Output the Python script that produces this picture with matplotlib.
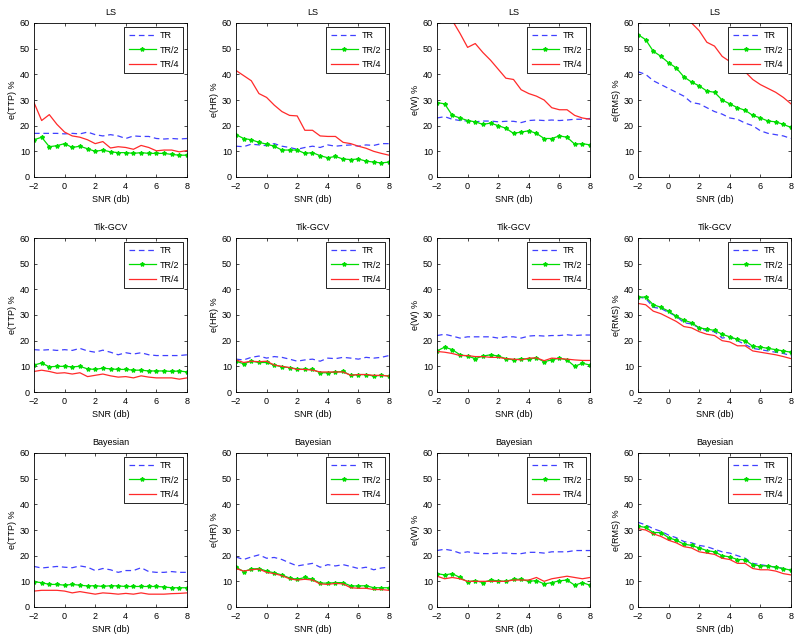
import numpy as np
import matplotlib
matplotlib.use('Agg')
import matplotlib.pyplot as plt

plt.rcParams['font.family'] = ['Liberation Sans', 'DejaVu Sans']

# ---- SNR values (db)
snr = np.arange(-2, 8.01, 0.5)

methods = ['LS', 'Tik-GCV', 'Bayesian']
ylabels = ['e(TTP) %', 'e(HR) %', 'e(W) %', 'e(RMS) %']
labels = ['TR', 'TR/2', 'TR/4']

# ---- LS
ls_ttp_tr = [17, 17, 17, 17, 16.8, 17, 16.8, 17.5, 16.5, 16, 16.5, 16, 15, 16, 15.8, 15.8, 15, 14.8, 15, 14.8, 15]
ls_ttp_tr2 = [14.5, 15.5, 11.8, 12.2, 13, 11.5, 12, 11, 10, 10.5, 9.8, 9.5, 9.5, 9.2, 9.5, 9.2, 9.2, 9.2, 8.8, 8.5, 8.5]
ls_ttp_tr4 = [29, 22, 24.3, 20.5, 17.5, 16, 15.5, 14.5, 13, 13.8, 11.3, 11.8, 11.5, 10.8, 12.3, 11.5, 10.2, 10.5, 10.5, 9.8, 10.3]

ls_hr_tr = [12, 11.8, 12.8, 12.5, 12.2, 13, 12, 11.5, 10.8, 11.5, 12, 11.5, 12.5, 12, 12.3, 12.5, 12, 12.5, 12.3, 13, 13]
ls_hr_tr2 = [16.5, 15, 14.5, 13.5, 12.8, 12, 10.5, 10.5, 10.5, 9.2, 9.5, 8.3, 7.5, 8, 7, 6.8, 7, 6.2, 5.8, 5.5, 5.8]
ls_hr_tr4 = [41.5, 39.5, 37.5, 32.5, 31, 28, 25.5, 24, 23.8, 18.2, 18.2, 16, 15.8, 15.8, 13.5, 13, 12, 11.2, 10, 9.2, 8.5]

ls_w_tr = [23, 23.5, 22.5, 22, 21.8, 21.5, 21.8, 21.8, 21.5, 21.7, 21.7, 21.2, 22, 22.2, 22, 22.2, 22, 22.2, 22.5, 22.5, 22.8]
ls_w_tr2 = [29, 28.5, 24, 23, 22, 21.5, 20.5, 21, 20, 19, 17, 17.5, 18, 17, 15, 15, 16, 15.5, 12.8, 13, 12.5]
ls_w_tr4 = [72, 66, 61, 56, 50.5, 52, 48.5, 45.5, 42, 38.5, 38, 34, 32.5, 31.5, 30, 27, 26.2, 26.2, 24, 23, 22.5]

ls_rms_tr = [41, 40, 37.5, 36, 34.5, 33, 31.5, 29, 28.5, 27, 25.5, 24.5, 23, 22.5, 21, 20, 18, 17, 16.5, 16, 15]
ls_rms_tr2 = [55.5, 53.5, 49, 47, 44.5, 42.5, 39, 37, 35.5, 33.5, 33, 30, 28.5, 27, 26, 24, 23, 21.8, 21.5, 20.5, 19.3]
ls_rms_tr4 = [81, 78, 75, 72, 69, 66, 63, 60, 57, 52.5, 51, 47, 45, 42.5, 41, 38, 36, 34.5, 33, 31, 28.5]

# ---- Tik-GCV
gcv_ttp_tr = [16.5, 16.3, 16.5, 16.2, 16.5, 16.2, 17, 16, 15.5, 16.3, 15.5, 14.5, 15.3, 14.8, 15.3, 14.5, 14.2, 14.2, 14.2, 14.2, 14.5]
gcv_ttp_tr2 = [10.5, 11.3, 9.8, 10, 10, 9.8, 10, 9, 8.8, 9.3, 9, 8.8, 8.8, 8.5, 8.5, 8.2, 8.2, 8.2, 8, 8.2, 7.8]
gcv_ttp_tr4 = [8, 8.5, 8, 7.3, 7.5, 7, 7.5, 6, 6.5, 7, 6.3, 5.8, 6, 5.5, 6.3, 5.8, 5.5, 5.5, 5.5, 5, 5.5]

gcv_hr_tr = [12.8, 12.5, 13.5, 14, 13.2, 13.8, 13.5, 12.8, 12, 12.5, 12.8, 12, 13.2, 13, 13.5, 13.2, 12.8, 13.5, 13.2, 13.5, 14.2]
gcv_hr_tr2 = [12, 11, 12, 11.5, 11.5, 10.5, 9.8, 9.5, 9, 8.8, 8.8, 7.5, 7.5, 7.8, 8, 6.5, 6.8, 6.8, 6.2, 6.5, 6.2]
gcv_hr_tr4 = [12.5, 11.5, 12, 11.8, 12, 10.5, 10, 9.5, 8.8, 8.8, 8.5, 7.8, 7.8, 7.8, 7.8, 6.5, 6.8, 6.8, 6.5, 6.5, 6.2]

gcv_w_tr = [22, 22.5, 21.8, 21, 21.5, 21.5, 21.5, 21.5, 21, 21.5, 21.5, 21, 21.8, 22, 21.8, 22, 22, 22.3, 22, 22.2, 22.2]
gcv_w_tr2 = [16, 17.5, 16.5, 14.5, 14, 13, 14, 14.5, 14, 13, 12.5, 13, 12.8, 13.3, 11.8, 12.5, 13.2, 12.5, 10, 11.2, 10.5]
gcv_w_tr4 = [15.8, 15.5, 15, 14.2, 14.2, 13.8, 13.8, 13.5, 13.5, 13, 12.8, 12.5, 13.2, 13.3, 12.2, 13.2, 13, 12.8, 12.5, 12.3, 12.3]

gcv_rms_tr = [37, 36.5, 33, 32.5, 31, 29.5, 27, 26.5, 25, 23.8, 23.5, 21, 21.5, 20, 18.5, 17, 16.5, 16, 15.5, 15, 14.2]
gcv_rms_tr2 = [37, 37, 34, 33, 31.5, 29.5, 28, 27, 25, 24.5, 24, 22.5, 21.5, 20.5, 20, 17.8, 17.5, 17, 16.5, 16, 15.5]
gcv_rms_tr4 = [34.5, 34, 31.5, 30.5, 29, 27.5, 25.5, 25, 23.5, 22.5, 22, 20, 19.5, 18, 18, 16, 15.5, 15, 14.5, 13.8, 13]

# ---- Bayesian
bay_ttp_tr = [15.8, 15.2, 15.5, 15.8, 15.5, 15.3, 16, 15.5, 14.2, 15, 14.5, 13.5, 14.2, 14.2, 15.3, 13.8, 13.5, 13.5, 13.8, 13.5, 13.5]
bay_ttp_tr2 = [9.8, 9.5, 8.8, 8.8, 8.5, 8.8, 8.5, 8.2, 8.3, 8, 8.3, 8.2, 8, 8, 8, 8, 8, 7.8, 7.5, 7.5, 7.5]
bay_ttp_tr4 = [6.2, 6.5, 6.5, 6.5, 6.2, 5.5, 6, 5.5, 5, 5.5, 5.3, 5, 5.3, 5, 5.5, 5, 5, 5, 5.2, 5.3, 5.5]

bay_hr_tr = [19.5, 18.5, 19.5, 20.3, 19, 19.3, 18.5, 17.2, 16, 16.5, 17, 15.5, 16.5, 16, 16.5, 15.8, 15, 15.5, 14.5, 15.2, 15.5]
bay_hr_tr2 = [15.5, 13.8, 14.8, 15, 14, 13.3, 12.5, 11.3, 10.8, 11.5, 10.8, 9.3, 9.3, 9.5, 9.5, 8.2, 8.2, 8.3, 7.5, 7.5, 7.5]
bay_hr_tr4 = [15, 14, 14.5, 14.8, 13.5, 13, 12.2, 11, 10.5, 10.8, 10.5, 9, 8.8, 9.2, 9, 7.5, 7.3, 7.3, 6.8, 6.8, 6.5]

bay_w_tr = [22, 22.5, 22, 21, 21.5, 21, 20.8, 20.8, 21, 21, 20.8, 20.8, 21.3, 21.3, 21, 21.5, 21.5, 21.5, 22, 22, 22]
bay_w_tr2 = [13, 12.5, 13, 11.5, 9.8, 10.3, 9.5, 10.5, 10.2, 10, 10.8, 10.8, 10, 10.3, 9, 9.5, 10.2, 10.5, 8.5, 9.5, 8.5]
bay_w_tr4 = [12, 11, 11.5, 11, 10, 10, 10, 10, 10, 10, 10.5, 10.5, 10.5, 11.5, 10, 11, 11.5, 12, 11.5, 11, 11.5]

bay_rms_tr = [33, 32, 30.5, 29.5, 28, 27, 25.5, 25, 24, 23.5, 22.5, 21.5, 21, 20, 19, 17, 16.5, 16, 15.5, 15, 14.5]
bay_rms_tr2 = [31.5, 31, 29, 29, 27, 26, 24.5, 24, 23, 22, 21.5, 20, 19.5, 18.5, 18.5, 16.5, 16, 16, 15.5, 15, 14.3]
bay_rms_tr4 = [30.5, 30, 28.5, 27.5, 26, 25, 23.5, 23, 21.5, 21, 20.5, 19, 18.5, 17, 17, 15, 14.5, 14.5, 14, 13, 12.5]

data = [
    [(ls_ttp_tr, ls_ttp_tr2, ls_ttp_tr4), (ls_hr_tr, ls_hr_tr2, ls_hr_tr4),
     (ls_w_tr, ls_w_tr2, ls_w_tr4), (ls_rms_tr, ls_rms_tr2, ls_rms_tr4)],
    [(gcv_ttp_tr, gcv_ttp_tr2, gcv_ttp_tr4), (gcv_hr_tr, gcv_hr_tr2, gcv_hr_tr4),
     (gcv_w_tr, gcv_w_tr2, gcv_w_tr4), (gcv_rms_tr, gcv_rms_tr2, gcv_rms_tr4)],
    [(bay_ttp_tr, bay_ttp_tr2, bay_ttp_tr4), (bay_hr_tr, bay_hr_tr2, bay_hr_tr4),
     (bay_w_tr, bay_w_tr2, bay_w_tr4), (bay_rms_tr, bay_rms_tr2, bay_rms_tr4)],
]

W, H = 800, 641
fig = plt.figure(figsize=(W / 100, H / 100), dpi=100)

# ---- axes boxes in pixels
lefts = [34, 236, 437, 638]
tops = [23, 238, 453]
aw, ah = 153, 154

fs = 6.5
for r in range(3):
    for c in range(4):
        ax = fig.add_axes([lefts[c] / W, 1 - (tops[r] + ah) / H, aw / W, ah / H])
        tr, tr2, tr4 = data[r][c]
        ax.plot(snr, tr, '--', color='#4040ff', lw=0.9, dashes=(4.5, 3), label=labels[0])
        ax.plot(snr, tr2, '-', color='#00dd00', lw=0.9, marker='*', ms=3,
                label=labels[1])
        ax.plot(snr, tr4, '-', color='#ff2a2a', lw=0.9, label=labels[2])
        ax.set_xlim(-2, 8)
        ax.set_ylim(0, 60)
        ax.set_xticks(range(-2, 9, 2))
        ax.set_yticks(range(0, 61, 10))
        ax.tick_params(direction='in', length=2, width=0.5, labelsize=fs,
                       top=True, right=True)
        ax.tick_params(axis='x', pad=3.5)
        ax.tick_params(axis='y', pad=3)
        for s in ax.spines.values():
            s.set_linewidth(0.6)
        ax.set_title(methods[r], fontsize=fs, pad=6)
        ax.set_xlabel('SNR (db)', fontsize=fs, labelpad=3)
        ax.set_ylabel(ylabels[c], fontsize=fs, labelpad=2)
        leg = ax.legend(loc='upper right', fontsize=fs, fancybox=False,
                        framealpha=1, edgecolor='black', handlelength=3.0,
                        borderpad=0.5, labelspacing=0.6, handletextpad=0.4,
                        borderaxespad=0.4)
        leg.get_frame().set_linewidth(0.6)

fig.savefig('out.png', dpi=100)
